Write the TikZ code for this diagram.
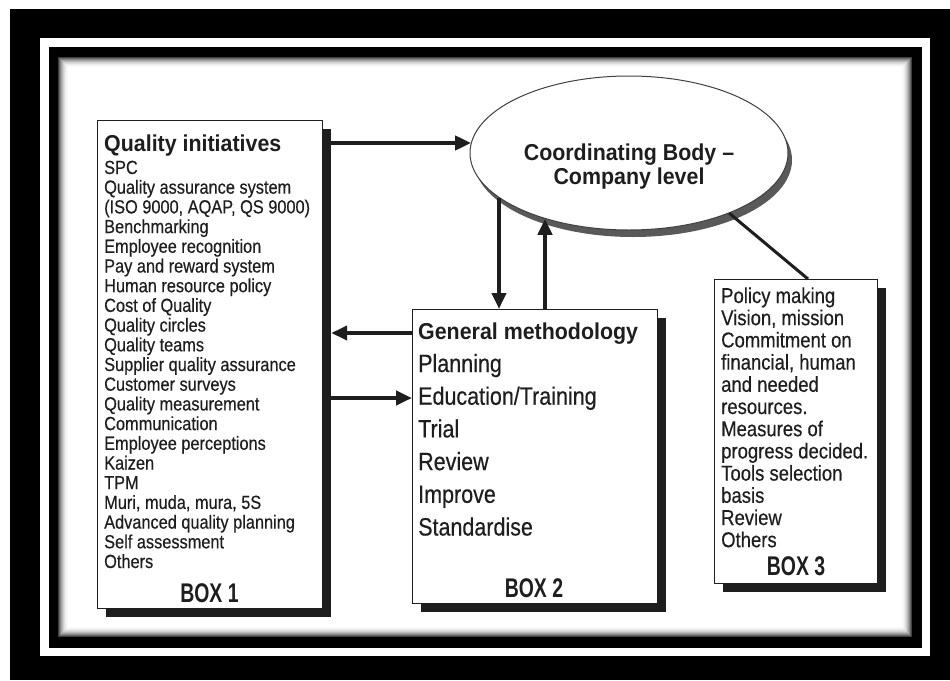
\documentclass[tikz,border=0pt]{standalone}
\usepackage{fontspec}
\setmainfont{Liberation Sans}[FakeStretch=0.86, FakeBold=0.4]
\newfontfamily\titlef{Liberation Sans}[FakeStretch=0.93]
\newfontfamily\narrowf{Liberation Sans}[FakeStretch=0.72]
\usetikzlibrary{arrows.meta,shapes.geometric,shadows}
\definecolor{ink}{HTML}{1E1E1E}
\newcommand\lstack[2]{\vtop{\baselineskip=#1\lineskiplimit=-1000pt\lineskip=0pt\relax\halign{##\hfil\cr#2\crcr}}}
\newcommand\cstack[2]{\vtop{\baselineskip=#1\lineskiplimit=-1000pt\lineskip=0pt\relax\halign{\hfil##\hfil\cr#2\crcr}}}
\begin{document}
\begin{tikzpicture}[x=1pt,y=-1pt,
  boxnode/.style={draw=ink, line width=1.2pt, fill=white, inner sep=0pt, anchor=north west,
    drop shadow={shadow xshift=8pt, shadow yshift=-8pt, fill=ink, opacity=1}},
  arr/.style={draw=ink, line width=4.5pt, -{Triangle[length=16pt,width=14pt]}},
  txt/.style={anchor=base west, inner sep=0pt, text=ink},
  lbl/.style={anchor=base, inner sep=0pt, text=ink, font=\narrowf\bfseries\fontsize{27}{27}\selectfont}
]
\useasboundingbox (0,0) rectangle (950,680);
\fill[white] (0,0) rectangle (950,680);
\fill[black] (10,9) rectangle (950,680);
\fill[white] (40,38) rectangle (930,656);
\fill[black] (49,47) rectangle (922,648);
\fill[white] (58,57) rectangle (912,637);
\foreach \i/\g in {0/75,1/60,2/47,3/36,4/27,5/19,6/13,7/8,8/4,9/2}
  \draw[black!\g, line width=1pt] (58.5+\i, 57.5+\i) rectangle (911.5-\i, 636.5-\i);

% boxes
\node[boxnode, minimum width=225pt, minimum height=488pt] (b1) at (97,120) {};
\node[boxnode, minimum width=245pt, minimum height=294pt] (b2) at (412,309) {};
\node[boxnode, minimum width=163pt, minimum height=304pt] (b3) at (714,279) {};

% ellipse
\node[ellipse, draw=black!75, line width=1pt, fill=white, minimum width=318pt, minimum height=154pt, inner sep=0pt,
  drop shadow={shadow xshift=4pt, shadow yshift=-7pt, fill=black!65, opacity=1}] (ell) at (629,153) {};
\node[anchor=base, inner sep=0pt, text=ink, font=\titlef\bfseries\fontsize{23}{24}\selectfont] (ellt) at (629,160)
  {\cstack{24pt}{Coordinating Body –\cr Company level}};

% connectors
\coordinate (b1r) at ([xshift=8pt]b1.east);
\coordinate (a0) at ([shift={(8,23)}]b1.north east);
\draw[arr] (a0) -- (ell.176 |- a0);
\coordinate (p1) at ([shift={(0,24)}]b2.north west);
\draw[arr] (p1) -- (p1 -| b1r);
\coordinate (p2) at ([shift={(0,89)}]b2.north west);
\draw[arr] (p2 -| b1r) -- (p2);
\coordinate (dtop) at ([shift={(87,0)}]b2.north west);
\draw[arr] (ell.199 -| dtop) -- (dtop);
\coordinate (utop) at ([shift={(133,0)}]b2.north west);
\draw[arr] (utop) -- (ell.218 -| utop);
\coordinate (b3t) at ([shift={(94,0)}]b3.north west);
\draw[ink, line width=3pt] (ell.329) -- (b3t);

% box 1 text
\node[txt, font=\titlef\bfseries\fontsize{23}{26}\selectfont] (t1) at (104,151) {Quality initiatives};
\node[txt, font=\fontsize{19}{19.7}\selectfont] (l1) at (104,174) {\lstack{19.7pt}{%
SPC\cr
Quality assurance system\cr
(ISO 9000, AQAP, QS 9000)\cr
Benchmarking\cr
Employee recognition\cr
Pay and reward system\cr
Human resource policy\cr
Cost of Quality\cr
Quality circles\cr
Quality teams\cr
Supplier quality assurance\cr
Customer surveys\cr
Quality measurement\cr
Communication\cr
Employee perceptions\cr
Kaizen\cr
TPM\cr
Muri, muda, mura, 5S\cr
Advanced quality planning\cr
Self assessment\cr
Others}};
\node[lbl] (x1) at (209.5,602) {BOX 1};

% box 2 text
\node[txt, font=\titlef\bfseries\fontsize{23}{26}\selectfont] (t2) at (418,339) {General methodology};
\node[txt, font=\fontsize{25}{32.7}\selectfont] (l2) at (418,372) {\lstack{32.7pt}{%
Planning\cr
Education/Training\cr
Trial\cr
Review\cr
Improve\cr
Standardise}};
\node[lbl] (x2) at (534,597) {BOX 2};

% box 3 text
\node[txt, font=\fontsize{21.5}{22.2}\selectfont] (l3) at (721,303) {\lstack{22.2pt}{%
Policy making\cr
Vision, mission\cr
Commitment on\cr
financial, human\cr
and needed\cr
resources.\cr
Measures of\cr
progress decided.\cr
Tools selection\cr
basis\cr
Review\cr
Others}};
\node[lbl] (x3) at (796,575) {BOX 3};
\end{tikzpicture}
\end{document}
